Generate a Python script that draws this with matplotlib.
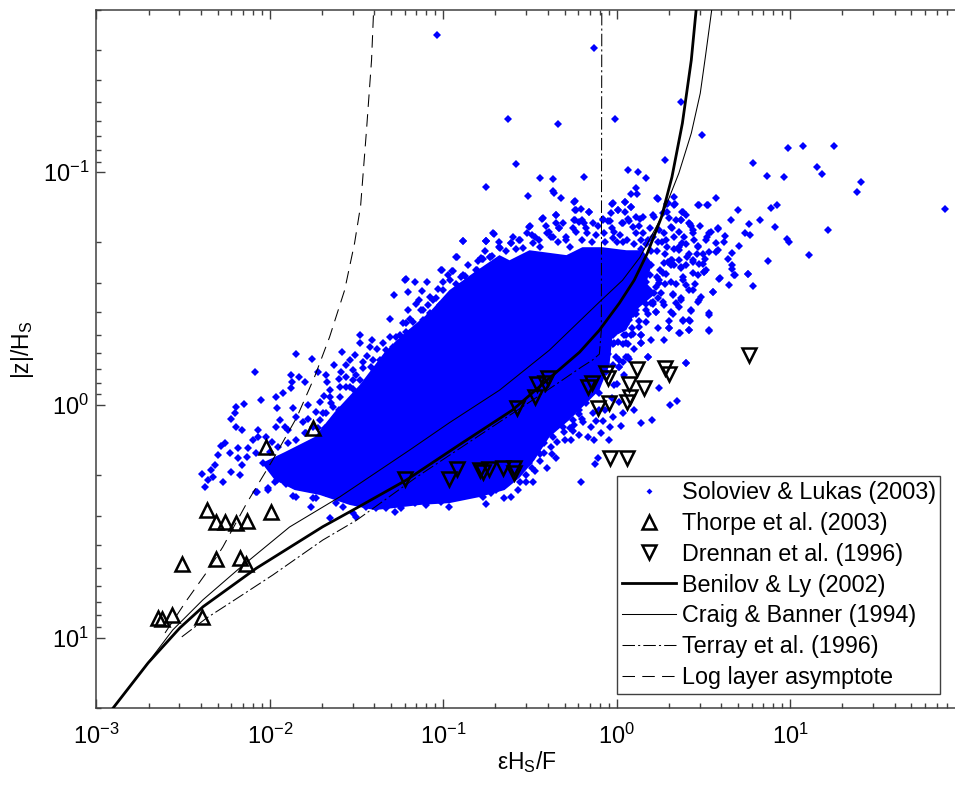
import numpy as np
import matplotlib
matplotlib.use("Agg")
import matplotlib.pyplot as plt
from matplotlib.lines import Line2D
from matplotlib.ticker import LogLocator, NullFormatter, FuncFormatter

plt.rcParams['font.family'] = ['Liberation Sans', 'DejaVu Sans']
plt.rcParams['mathtext.fontset'] = 'custom'
plt.rcParams['mathtext.rm'] = 'Liberation Sans'
plt.rcParams['mathtext.it'] = 'Liberation Sans'
plt.rcParams['mathtext.bf'] = 'Liberation Sans'

# Outline of the saturated blue cloud, whose individual points cannot be read
# (log10 of eps*Hs/F, log10 of |z|/Hs)
core_log_x = [-2.046,-1.914,-1.741,-1.626,-1.482,-1.338,-1.223,-1.079,-.964,-.820,-.676,-.618,-.503,-.290,-.198,-.083,.056,.147,
              .204,.170,.227,.112,.055,-.025,-.042,-.100,-.186,-.273,-.388,-.474,-.561,-.647,-.791,-.964,-1.136,-1.280,-1.396,-1.539,-1.712,-1.856,-1.971]
core_log_y = [.249,.202,.137,.030,-.086,-.227,-.309,-.399,-.494,-.571,-.644,-.622,-.665,-.644,-.678,-.678,-.665,-.665,
              -.609,-.524,-.481,-.408,-.322,-.292,-.172,-.064,0,.064,.137,.236,.313,.365,.395,.421,.429,.442,.451,.429,.386,.365,.322]

# Individually legible Soloviev & Lukas points (log10 x, log10 y)
soloviev_top = [(-1.038,-1.588),(-.131,-1.533),(.371,-1.300),(-.624,-1.230),(-.339,-1.209),(-.008,-1.230),(.491,-1.161),
 (.986,-1.103),(1.072,-1.113),(1.251,-1.113),(.277,-1.054),(-.581,-1.034),(.786,-1.038),(1.155,-1.023),(1.186,-.991),
 (.063,-1.011),(.120,-1.001),(.169,-.974),(.864,-.985),(.964,-.980),(1.406,-.958),(1.386,-.915),(-.445,-.974),(-.367,-.970),
 (-.190,-.980),(-.752,-.937),(-.510,-.900),(-.365,-.920),(-.359,-.911),(-.322,-.890),(.112,-.931),(.083,-.905),(.114,-.905),
 (.234,-.890),(.328,-.894),(.570,-.890),(.471,-.858),(.522,-.858),(.699,-.837),(.892,-.847),(.921,-.858),(1.893,-.841),
 (-.239,-.877),(-.239,-.837),(-.208,-.840),(-.159,-.831),(-.029,-.865),(.006,-.837),(.049,-.874),(.083,-.852),(.287,-.865),
 (.338,-.865),(.379,-.830),(.399,-.815),(-.353,-.815),(-.430,-.800),(-.243,-.797),(-.202,-.794),(-.080,-.801),(-.039,-.791),
 (.063,-.801),(.134,-.801),(.216,-.808),(.287,-.830),(.369,-.794),(.420,-.779),(.430,-.768),(.660,-.794),(.827,-.794),
 (.762,-.777),(.913,-.765),(1.220,-.751),(.742,-.741),(.766,-.729),(.585,-.757),(.542,-.744),(.522,-.722),(.624,-.725),
 (.620,-.701),(.980,-.715),(.992,-.702),(.705,-.682),(.440,-.737),(.379,-.694),(.358,-.679),(.471,-.682),(.460,-.651),
 (.572,-.694),(.572,-.658),(.664,-.654),(.644,-.629),(1.106,-.644),(.870,-.618),(.664,-.601),(.664,-.586),(.756,-.565),
 (.679,-.558),(.593,-.546),(.511,-.629),(.497,-.608),(.403,-.636),(.318,-.625),(.369,-.594),(.440,-.615),(.505,-.572),
 (-.889,-.704),(-.752,-.704),(-.709,-.734),(-.559,-.708),(-.501,-.768),(-.487,-.729),(-.610,-.698),(-.671,-.676),(-.923,-.635),
 (-.779,-.629),(-.732,-.636),(-1.011,-.581),(-.950,-.576),(-.885,-.558),(-.803,-.582),(-1.221,-.539),
 (-.40,-.74),(-.33,-.76),(-.37,-.72),(-.29,-.71),(-.17,-.74),(-.03,-.76),(.03,-.78),(.15,-.74),(.21,-.72),(.27,-.74),(.32,-.76),
 (.26,-.70),(.18,-.71),(.14,-.67),(.20,-.66),(.28,-.65),(.33,-.67),(.31,-.60),(.25,-.58),(.20,-.60),(.15,-.62)]
soloviev_left = [(-2.083,-.143),(-1.847,-.219),(-1.754,-.198),(-1.582,-.229),(-1.482,-.301),(-1.409,-.279),(-1.309,-.368),
 (-1.286,-.474),(-1.217,-.540),(-1.165,-.529),(-1.204,-.487),(-1.008,-.582),(-.925,-.634),(-.887,-.704),(-.753,-.704),
 (-1.094,-.529),(-.964,-.537),(-.945,-.577),(-.877,-.554),(-.810,-.580),(-.781,-.630),(-1.031,-.497),(-1.079,-.465),
 (-1.040,-.458),(-1.204,-.408),(-1.156,-.432),(-1.232,-.351),(-1.175,-.358),(-1.127,-.408),(-1.117,-.365),(-1.079,-.386),
 (-1.348,-.265),(-1.309,-.293),(-1.261,-.265),(-1.482,-.265),(-1.424,-.251),(-1.632,-.172),(-1.511,-.215),(-1.539,-.193),
 (-1.463,-.186),(-1.559,-.172),(-1.587,-.143),(-1.520,-.150),(-1.559,-.122),(-1.520,-.107),(-1.722,-.143),(-1.678,-.129),
 (-1.670,-.100),(-1.597,-.079),(-1.655,-.065),(-1.875,-.129),(-1.831,-.122),(-1.870,-.100),(-1.799,-.100),(-1.875,-.072),
 (-1.923,-.053),(-1.962,-.036),(-2.048,-.022),(-2.150,-.006),(-2.192,.010),(-2.201,.036),(-2.221,.061),(-2.192,.093),
 (-2.163,.107),(-1.958,.014),(-1.866,.014),(-1.779,-.000),(-1.712,-.014),(-1.693,.036),(-1.645,-.007),(-1.731,.028),
 (-1.942,.064),(-1.914,.093),(-1.962,.093),(-1.846,.050),(-1.808,.071),(-2.067,.107),(-2.067,.136),(-2.019,.136),
 (-2.096,.150),(-2.259,.164),(-2.284,.176),(-2.182,.186),(-2.230,.207),(-2.297,.214),(-2.125,.186),(-2.134,.222),
 (-2.182,.229),(-2.077,.207),(-2.038,.250),(-2.163,.257),(-2.221,.286),(-2.317,.257),(-2.336,.279),(-2.393,.297),
 (-2.326,.307),(-2.355,.322),(-2.269,.329),(-2.374,.350),(-2.173,.300),(-2.010,.365),(-2.077,.372),(-1.971,.329),
 (-1.904,.336),(-1.866,.390),(-1.751,.400),(-1.895,.107),(-1.798,.121),(-1.895,.164)]
soloviev_right = [(-.206,.329),(-.480,.329),(-.403,.272),(-.469,.282),(-.522,.301),(-.522,.329),(-.570,.365),(-.609,.394),
 (-.753,.427),(-.969,.437),(-1.012,.415),(-1.098,.430),(-1.165,.422),(-.935,.394),(-.849,.387),(-.791,.372),(-.724,.379),
 (-1.060,.408),(-1.136,.408),(-.110,.229),(-.125,.251),(-.350,.229),(-.373,.208),(-.417,.205),(-.445,.208),(-.503,.248),
 (-.551,.265),(-.346,.158),(-.263,.151),(-.215,.129),(-.167,.136),(-.090,.122),(-.046,.151),(-.129,.151),(-.302,.115),
 (-.417,.162),(-.465,.179),(-.513,.172),(-.244,.086),(-.196,.072),(-.148,.093),(-.081,.068),(-.039,.096),(.025,.091),
 (.140,.076),(.203,.065),(-.023,.050),(.034,.036),(.101,.022),(.307,.000),(.347,-.017),(.245,-.075),(.015,-.014),(-.014,-.085),
 (.178,-.207),(.399,-.181),(.140,-.267),(.063,-.207),(.015,-.193),(.015,-.164),(.005,-.271),(.063,-.264),(.053,-.300),
 (.140,-.300),(.299,-.329),(.364,-.310),(.418,-.321),(.533,-.319),(.533,-.389),(.428,-.404),(.383,-.361),(.422,-.361),
 (.322,-.393),(.370,-.450),(.470,-.443),(.485,-.465),(.556,-.486),(.591,-.543),(.648,-.517),(.677,-.558),(.758,-.565),
 (.786,-.512),(.437,-.493),(.380,-.536),(.322,-.479),(.226,-.400),(.169,-.357),(.130,-.336),(.265,-.443),(.169,-.436),
 (.092,-.393),(.053,-.350),(.226,-.507),(.130,-.493),(.130,-.550),(.245,-.536),(.284,-.565),(.504,-.572),
 (.10,-.45),(.16,-.48),(.20,-.44),(.07,-.47),(.11,-.53),(.17,-.53),(.09,-.58),(.05,-.56),(.19,-.56),(.03,-.33),(.08,-.30),
 (-.05,-.22),(-.02,-.30),(-.12,-.18),(-.06,-.14),(-.16,-.07),(-.10,-.05),(-.22,-.03),(-.28,.03),(-.22,.04),(-.33,.08),(-.27,.10)]
soloviev_upper_right = [(-.503,-.766),(-.426,-.802),(-.350,-.816),(-.350,-.780),(-.244,-.873),(-.234,-.837),(-.158,-.830),
 (-.244,-.794),(-.215,-.787),(-.139,-.780),(-.081,-.794),(-.033,-.823),(.005,-.837),(.048,-.830),(-.023,-.866),(.048,-.873),
 (.082,-.852),(.111,-.809),(.149,-.809),(.207,-.816),(.264,-.823),(.303,-.802),(.341,-.794),(.380,-.830),(.370,-.794),
 (.418,-.780),(.312,-.766),(.360,-.744),(.245,-.751),(.284,-.709),(.332,-.723),(.389,-.723),(.447,-.709),(.533,-.737),
 (.514,-.709),(.581,-.759),(.476,-.859),(.524,-.859),(.293,-.866),(.332,-.859),(.236,-.887),(.466,-.680),(.418,-.651),
 (.360,-.666),(.437,-.623),(.312,-.623),(.360,-.623),(.399,-.601),(.370,-.587),(.332,-.601),(.293,-.616),(.476,-.608),
 (.533,-.658),(.581,-.666),(.514,-.580),(.437,-.566),(.380,-.551),(.552,-.487),(.399,-.515),(.418,-.494),(.476,-.451),
 (.370,-.458),(.322,-.472),(.255,-.480),(.312,-.530),(.264,-.566),(.245,-.523),(.217,-.480),(.207,-.444),(.149,-.465),
 (.111,-.408),(.226,-.401),(.312,-.401),(.360,-.422),(.428,-.408),(.533,-.394),(.418,-.365),(.380,-.365),(.303,-.329),
 (.360,-.308),(.418,-.322),(.533,-.322),(.140,-.301),(.140,-.268),(.053,-.265),(.044,-.301),(-.014,-.265),(.178,-.208),
 (.399,-.182),(.053,-.208),(.015,-.165),(.034,-.186),(-.023,-.172),(-.714,-.737),(-.753,-.706),(-.676,-.677),(-.609,-.694),
 (-.561,-.709),(-.542,-.673),(-.484,-.694),(-.446,-.709),(-.388,-.744),(-.330,-.759),(-.378,-.723),(-.292,-.723),(-.234,-.744),
 (-.177,-.759),(-.119,-.730),(-.014,-.744),(.034,-.780),(.092,-.766),(.111,-.737),(.140,-.709),(.034,-.701),(-.023,-.716),
 (-.071,-.737),(-.733,-.634),(-.772,-.626),(-.753,-.580),(-.705,-.587),(-.657,-.573)]
soloviev_upper_edge = [(-1.271,-.251),(-1.232,-.279),(-1.194,-.308),(-1.156,-.308),(-1.098,-.308),(-1.040,-.351),(-1.002,-.379),
 (-1.060,-.451),(-1.002,-.494),(-.945,-.465),(-.906,-.479),(-.849,-.494),(-.791,-.537),(-.753,-.565),(-.829,-.537),(-.925,-.522),
 (-.983,-.422),(-1.117,-.408),(-1.213,-.351),(-1.290,-.251),(-1.328,-.236),(-1.367,-.193),(-1.415,-.165),(-1.463,-.158),
 (-1.501,-.129),(-1.539,-.079),(-1.597,-.036),(-1.635,.007),(-1.674,.036),(-1.712,.064),(-1.751,.093),(-1.789,.121),(-1.655,-.036),
 (-1.559,-.079),(-1.482,-.107),(-1.405,-.193),(-1.328,-.208),(-1.271,-.293),(-1.213,-.315),(-1.136,-.344),(-1.079,-.394),
 (-1.021,-.429),(-.964,-.444),(-.887,-.437),(-.829,-.458),(-.781,-.494),(-.733,-.522),
 (-.80,-.62),(-.76,-.66),(-.72,-.64),(-.68,-.70),(-.64,-.66),(-.60,-.72),(-.58,-.67),(-.52,-.74),(-.47,-.72),(-.44,-.68),(-.41,-.77),
 (-.34,-.70),(-.31,-.78),(-.27,-.68),(-.25,-.76),(-.20,-.71),(-.19,-.78),(-.14,-.70),(-.11,-.77),(-.07,-.70),(-.05,-.79),(0,-.70),
 (.02,-.73),(.06,-.71),(.07,-.79),(.10,-.69),(.13,-.77),(.17,-.69),(.19,-.76),(.23,-.66),(.24,-.70),(.27,-.61),(.29,-.68),(.23,-.55),
 (.28,-.52),(.24,-.46),(.18,-.39),(.13,-.36),(.09,-.33),(.11,-.44),(.27,-.43),(.34,-.52),(.34,-.44),(.30,-.36),(.45,-.52),(.47,-.56),
 (.50,-.65),(.40,-.69),(.44,-.75),(.48,-.77),
 (-1.25,-.30),(-1.19,-.37),(-1.14,-.45),(-1.09,-.43),(-1.12,-.49),(-1.00,-.53),(-.97,-.56),(-.90,-.55),(-.86,-.60),(-1.38,-.24),
 (-1.34,-.17),(-1.30,-.21),(-1.44,-.21),(-1.44,-.10),(-1.60,-.11),(-1.52,-.07),(-1.69,-.04),(-1.60,.02),(-1.72,.10),(-1.68,.10),
 (-1.78,.06),(-1.85,.15),(-1.95,.18),(-1.99,.16),(-2.0,.20)]
soloviev_lower_edge = [(-.292,.022),(-.350,.065),(-.407,.108),(-.446,.151),(-.503,.193),(-.561,.236),(-.580,.279),(-.638,.337),
 (-.695,.365),(-.772,.394),(-.868,.372),(-.945,.394),(-1.021,.394),(-.292,-.035),(-.215,.022),(-.177,-.007),(-.139,.036),(-.100,.022),
 (-.254,.065),(-.311,.093),(-.369,.136),(-.465,.136),(-.522,.208),(-.388,.079),(-.177,-.050),(-.119,-.093),(-.062,-.178),(-.004,-.207),
 (.034,-.264),(-.023,-.264),(-.081,-.207),(.092,-.307),(.072,-.364),(.015,-.336),(.168,-.407),(.111,-.393),(.207,-.436),(.072,-.436),
 (-1.865,.329),(-1.904,.337),(-1.846,.394),(-1.760,.437),(-1.731,.401),(-1.654,.487),(-1.674,.379),(-1.520,.465),(-1.501,.480),
 (-1.280,.458),(-1.242,.444),(-1.616,.422),(-1.578,.437),(-1.443,.437),(-1.386,.444),(-1.328,.444),(-1.808,.351),(-1.961,.322),
 (-2.009,.358),(-2.076,.372),
 (-.20,.06),(-.25,.11),(-.30,.15),(-.38,.18),(-.44,.24),(-.49,.27),(-.56,.33),(-.65,.40),(-.12,.07),(-.07,.02),(-.03,-.03),(.00,-.09),
 (.04,-.13),(.07,-.20),(.10,-.24),(.20,-.28),(.24,-.33),(.27,-.28)]

# Thorpe et al. (2003)
thorpe_x = [.00433,.0102,.00489,.00551,.00637,.00735,.0031,.00493,.00671,.00728,.00228,.00238,.00274,.00405,.00957,.0177]
thorpe_y = [2.82,2.89,3.17,3.17,3.22,3.15,4.83,4.58,4.52,4.83,8.18,8.26,7.96,8.15,1.52,1.26]

# Drennan et al. (1996)
drennan_x = [.0598,.1197,.1086,.162,.183,.169,.220,.257,.257,.265,.339,.346,.386,.40,.687,.718,.867,.887,.783,.897,
             1.31,1.17,1.44,1.20,1.14,1.91,2.01,5.80,.914,1.15]
drennan_y = [2.08,1.88,2.08,1.90,1.89,1.93,1.86,1.87,1.96,1.03,.927,.813,.80,.768,.84,.80,.731,.768,1.03,.977,
             .70,.813,.843,.92,.973,.696,.738,.61,1.68,1.68]

# Model curves
benilov_x = [.00125,.00199,.00303,.00413,.00837,.0202,.0316,.0612,.124,.251,.409,.61,.794,1.035,1.26,1.50,1.81,2.08,2.39,2.69,2.87]
benilov_y = [20.0,12.8,9.06,7.34,5.02,3.33,2.77,2.10,1.48,1.05,.766,.593,.477,.365,.291,.223,.156,.105,.0616,.0330,.02]
craig_x = [.00125,.00198,.00276,.00411,.00671,.0130,.0253,.064,.1086,.211,.409,.794,1.08,1.36,1.81,2.28,2.69,3.03,3.24,3.53]
craig_y = [20.0,12.8,9.24,6.87,5.01,3.34,2.48,1.56,1.19,.863,.581,.361,.291,.232,.156,.101,.068,.0458,.0321,.02]
terray_x = [.00311,.00434,.00589,.0104,.0202,.0317,.0701,.327,.468,.625,.724,.794,.815,.82]
terray_y = [9.9,8.2,7.08,5.37,3.8,3.12,2.04,.952,.796,.687,.641,.604,.477,.02]
loglayer_x = [.00249,.00333,.00434,.00536,.00738,.0104,.0143,.0181,.0221,.027,.0308,.0334,.0361,.0386,.0397]
loglayer_y = [9.52,6.87,5.21,4.07,2.63,1.72,1.13,.758,.511,.321,.202,.139,.066,.033,.02]

legend_labels = ['Soloviev & Lukas (2003)', 'Thorpe et al. (2003)', 'Drennan et al. (1996)', 'Benilov & Ly (2002)',
                 'Craig & Banner (1994)', 'Terray et al. (1996)', 'Log layer asymptote']

W, H = 955, 785
fig = plt.figure(figsize=(W/100, H/100), dpi=100)
L, R, T, B = 96.3, 963.7, 9.5, 708.0
ax = fig.add_axes([L/W, 1-B/H, (R-L)/W, (B-T)/H])
ax.set_xscale('log'); ax.set_yscale('log')
ax.set_xlim(1e-3, 1e2); ax.set_ylim(20, 0.02)

blue = '#0000ff'
ax.fill(10**np.array(core_log_x), 10**np.array(core_log_y), color=blue, lw=0, zorder=2)
pts = np.array(soloviev_top + soloviev_left + soloviev_right + soloviev_upper_right + soloviev_upper_edge + soloviev_lower_edge)
ax.plot(10**pts[:, 0], 10**pts[:, 1], ls='none', marker='D', ms=3.8, mfc=blue, mec=blue, mew=0, zorder=2)

tri = dict(ls='none', mfc='none', mec='black', mew=1.8, ms=9.5, zorder=4)
ax.plot(thorpe_x, thorpe_y, marker='^', **tri)
ax.plot(drennan_x, drennan_y, marker='v', **tri)
ax.plot(benilov_x, benilov_y, color='k', lw=2.0, zorder=3)
ax.plot(craig_x, craig_y, color='k', lw=0.75, zorder=3)
ax.plot(terray_x, terray_y, color='k', lw=0.75, dashes=(12, 3, 2, 3), zorder=3)
ax.plot(loglayer_x, loglayer_y, color='k', lw=0.75, dashes=(12, 7), zorder=3)

ax.xaxis.set_major_locator(LogLocator(base=10, numticks=10))
ax.xaxis.set_minor_locator(LogLocator(base=10, subs=np.arange(2, 10), numticks=20))
ax.yaxis.set_major_locator(LogLocator(base=10, numticks=10))
ax.yaxis.set_minor_locator(LogLocator(base=10, subs=np.arange(2, 10), numticks=20))
ax.xaxis.set_major_formatter(FuncFormatter(lambda v, p: '' if v > 50 else r'$\mathdefault{10^{%d}}$' % round(np.log10(v))))
ax.xaxis.set_minor_formatter(NullFormatter()); ax.yaxis.set_minor_formatter(NullFormatter())
axc = '#404040'
ax.tick_params(which='major', direction='in', length=6.5, width=1.0, color=axc, top=True, right=True, labelsize=17)
ax.tick_params(which='minor', direction='in', length=3.6, width=1.0, color=axc, top=True, right=True)
ax.tick_params(axis='x', which='major', pad=11)
ax.tick_params(axis='y', which='major', pad=5)
for s in ax.spines.values():
    s.set_color(axc); s.set_linewidth(1.1)

fig.text(527/W, 1-762/H, r'$\mathregular{\epsilon H_S/F}$', ha='center', va='center', fontsize=16.5)
fig.text(22/W, 1-350/H, r'$\mathregular{|z|/H_S}$', ha='center', va='center', rotation=90, fontsize=16.5)

handles = [
    Line2D([], [], ls='none', marker='D', ms=3.0, mfc=blue, mec=blue, mew=0),
    Line2D([], [], ls='none', marker='^', mfc='none', mec='k', mew=1.8, ms=9.5),
    Line2D([], [], ls='none', marker='v', mfc='none', mec='k', mew=1.8, ms=9.5),
    Line2D([], [], color='k', lw=2.0),
    Line2D([], [], color='k', lw=0.75),
    Line2D([], [], color='k', lw=0.75, dashes=(12, 3, 2, 3)),
    Line2D([], [], color='k', lw=0.75, dashes=(12, 7)),
]
leg = ax.legend(handles, legend_labels, loc='lower left', bbox_to_anchor=(617/W, 1-694/H), bbox_transform=fig.transFigure,
                fontsize=16.8, frameon=True, fancybox=False, framealpha=1, edgecolor=axc, borderaxespad=0,
                handlelength=2.32, handletextpad=0.25, labelspacing=0.34, borderpad=0.2)
leg.get_frame().set_linewidth(1.0)
leg.set_zorder(5)

fig.savefig('out.png', dpi=100)
